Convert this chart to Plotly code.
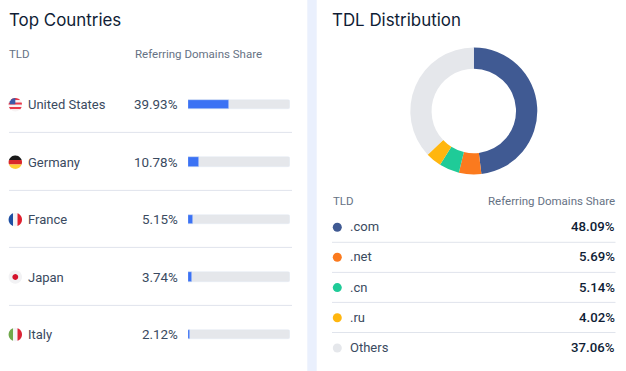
import math
import plotly.graph_objects as go

W, H = 626, 371

countries = ["United States", "Germany", "France", "Japan", "Italy"]
country_share = [39.93, 10.78, 5.15, 3.74, 2.12]
country_labels = ["39.93%", "10.78%", "5.15%", "3.74%", "2.12%"]
tlds = [".com", ".net", ".cn", ".ru", "Others"]
tld_share = [48.09, 5.69, 5.14, 4.02, 37.06]
tld_labels = ["48.09%", "5.69%", "5.14%", "4.02%", "37.06%"]
tld_colors = ["#405A93", "#FB7A1E", "#1FCB98", "#FFB60F", "#E5E7EB"]

FONT = "Inter"
NUM = "Roboto"
DARK = "#0F1D35"
BODY = "#3A4A60"
MUTED = "#667284"
LINE = "#E0E4EC"
BLUE = "#3B72F4"
TRACK = "#E5E7EB"

row_y = [104.7, 162.2, 219.6, 277.0, 334.5]
legend_y = [227.2, 257.3, 287.6, 317.8, 348.0]

fig = go.Figure()

fig.add_trace(go.Scatter(
    x=[337.3] * len(tlds), y=legend_y, mode="markers",
    marker=dict(size=9, color=tld_colors), xaxis="x", yaxis="y",
    hoverinfo="skip", showlegend=False))

fig.add_trace(go.Bar(y=countries, x=[100] * 5, orientation="h", xaxis="x2", yaxis="y2",
                     marker=dict(color=TRACK, cornerradius=2), width=0.165,
                     showlegend=False, hoverinfo="skip"))
fig.add_trace(go.Bar(y=countries, x=country_share, orientation="h", xaxis="x2", yaxis="y2",
                     marker=dict(color=BLUE, cornerradius=2), width=0.165,
                     showlegend=False, hoverinfo="skip"))

cx, cy, r = 473.8, 111.0, 63.5
fig.add_trace(go.Pie(values=tld_share, labels=tlds, sort=False, direction="clockwise", rotation=0,
                     hole=0.665, marker=dict(colors=tld_colors, line=dict(width=0)),
                     textinfo="none", hoverinfo="skip", showlegend=False,
                     domain=dict(x=[(cx - r) / W, (cx + r) / W],
                                 y=[1 - (cy + r) / H, 1 - (cy - r) / H])))

pitch = row_y[1] - row_y[0]
top = row_y[0] - pitch / 2
bot = row_y[-1] + pitch / 2


def arc_path(cx, cy, r, a0, a1):
    n = 24
    pts = [(cx + r * math.cos(a0 + (a1 - a0) * i / n), cy + r * math.sin(a0 + (a1 - a0) * i / n))
           for i in range(n + 1)]
    return "M" + " L".join(f"{x:.2f},{y:.2f}" for x, y in pts) + " Z"


def band_path(cx, cy, r, y0, y1):
    pts = []
    n = 12
    a0, a1 = math.asin(max(-1, min(1, y0 / r))), math.asin(max(-1, min(1, y1 / r)))
    for i in range(n + 1):
        a = a0 + (a1 - a0) * i / n
        pts.append((cx + r * math.cos(a), cy + r * math.sin(a)))
    for i in range(n + 1):
        a = a1 + (a0 - a1) * i / n
        pts.append((cx - r * math.cos(a), cy + r * math.sin(a)))
    return "M" + " L".join(f"{x:.2f},{y:.2f}" for x, y in pts) + " Z"


def vband_path(cx, cy, r, x0, x1):
    pts = []
    n = 12
    a0, a1 = math.asin(max(-1, min(1, x0 / r))), math.asin(max(-1, min(1, x1 / r)))
    for i in range(n + 1):
        a = a0 + (a1 - a0) * i / n
        pts.append((cx + r * math.sin(a), cy + r * math.cos(a)))
    for i in range(n + 1):
        a = a1 + (a0 - a1) * i / n
        pts.append((cx + r * math.sin(a), cy - r * math.cos(a)))
    return "M" + " L".join(f"{x:.2f},{y:.2f}" for x, y in pts) + " Z"


shapes = []


def px_shape(**kw):
    shapes.append(dict(xref="x", yref="y", layer="below", line=dict(width=0), **kw))


px_shape(type="rect", x0=307.3, x1=316.7, y0=0, y1=H, fillcolor="#EAF0FD")

for y in [132.4, 190.4, 247.4, 305.4]:
    shapes.append(dict(type="line", xref="x", yref="y", x0=9, x1=292, y0=y, y1=y,
                       layer="below", line=dict(color=LINE, width=1)))
for y in [242.3, 272.4, 302.4, 332.5]:
    shapes.append(dict(type="line", xref="x", yref="y", x0=332, x1=615.5, y0=y, y1=y,
                       layer="below", line=dict(color=LINE, width=1)))

fx, fr = 15.3, 6.7


def flag_bands(cy, colors):
    n = len(colors)
    for i, c in enumerate(colors):
        px_shape(type="path", path=band_path(fx, cy, fr, -fr + 2 * fr * i / n, -fr + 2 * fr * (i + 1) / n),
                 fillcolor=c)


def flag_vbands(cy, colors):
    n = len(colors)
    for i, c in enumerate(colors):
        px_shape(type="path", path=vband_path(fx, cy, fr, -fr + 2 * fr * i / n, -fr + 2 * fr * (i + 1) / n),
                 fillcolor=c)


flag_bands(row_y[0], ["#E8394A", "#F7F3F3", "#E8394A", "#F7F3F3", "#E8394A", "#F7F3F3"])
shapes.append(dict(type="path", xref="x", yref="y", layer="below", line=dict(width=0),
                   fillcolor="#3B5AA8",
                   path=f"M{fx-fr+1.2},{row_y[0]-0.4} L{fx},{row_y[0]-0.4} L{fx},{row_y[0]-fr} "
                        f"L{fx-3.2},{row_y[0]-fr+0.8} L{fx-5.6},{row_y[0]-3.2} Z"))
flag_bands(row_y[1], ["#1A1A1A", "#D9292B", "#FFCF33"])
flag_vbands(row_y[2], ["#1E4FA3", "#F4F4F6", "#E0202F"])
px_shape(type="path", path=arc_path(fx, row_y[3], fr, 0, 2 * math.pi), fillcolor="#F2F2F4")
px_shape(type="path", path=arc_path(fx, row_y[3], 2.9, 0, 2 * math.pi), fillcolor="#D4122C")
flag_vbands(row_y[4], ["#6FA84A", "#F4F4F6", "#DB2436"])

annotations = []


def txt(x, y, s, size, color, anchor="left", weight=400, family=FONT):
    annotations.append(dict(x=x, y=y, xref="x", yref="y", text=s, showarrow=False,
                            xanchor=anchor, yanchor="middle", borderpad=0, borderwidth=0,
                            font=dict(family=family, size=size, color=color, weight=weight)))


txt(9, 20, "Top Countries", 16.9, DARK)
txt(332, 20, "TDL Distribution", 16.9, DARK)
txt(9, 54, "TLD", 11.5, MUTED, family=NUM)
txt(135, 54, "Referring Domains Share", 11.5, MUTED, family=NUM)
txt(333, 201, "TLD", 11.5, MUTED, family=NUM)
txt(615, 201, "Referring Domains Share", 11.5, MUTED, "right", family=NUM)

for y, c, l in zip(row_y, countries, country_labels):
    txt(27.5, y, c, 13, BODY, family=NUM)
    txt(178, y, l, 13.4, BODY, "right", family=NUM)
for y, t, l in zip(legend_y, tlds, tld_labels):
    txt(350, y - 0.4, t, 13, BODY, family=NUM)
    txt(615, y - 0.4, l, 13.2, DARK, "right", 500, family=NUM)

fig.update_layout(
    width=W, height=H, autosize=False,
    margin=dict(l=0, r=0, t=0, b=0),
    paper_bgcolor="white", plot_bgcolor="rgba(0,0,0,0)",
    barmode="overlay", bargap=0,
    showlegend=False,
    shapes=shapes, annotations=annotations,
    xaxis=dict(range=[0, W], domain=[0, 1], visible=False, fixedrange=True),
    yaxis=dict(range=[H, 0], domain=[0, 1], visible=False, fixedrange=True),
    xaxis2=dict(range=[0, 100], domain=[188 / W, 290 / W], visible=False, anchor="y2", fixedrange=True),
    yaxis2=dict(type="category", categoryorder="array", categoryarray=countries,
                range=[4.5, -0.5], domain=[1 - bot / H, 1 - top / H],
                visible=False, anchor="x2", fixedrange=True),
)

fig.write_html("out.html", config=dict(displayModeBar=False, responsive=False),
               post_script="document.body.style.margin='0';document.documentElement.style.overflow='hidden';")
